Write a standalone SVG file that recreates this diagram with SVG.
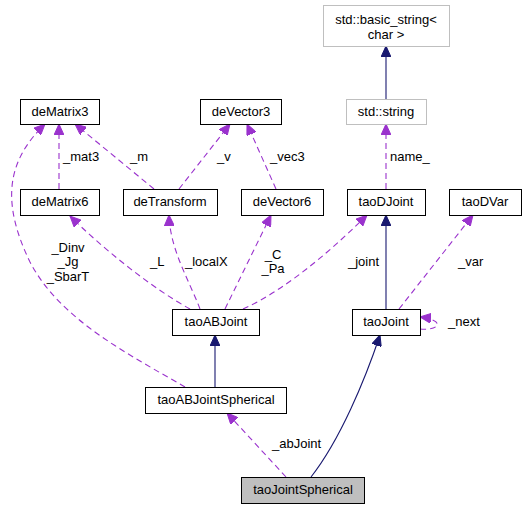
<svg xmlns="http://www.w3.org/2000/svg" width="525" height="509" viewBox="0 0 525 509">
<style>
text{font-family:"Liberation Sans",Arial,sans-serif;font-size:13px;fill:#000}
.n{text-anchor:middle}
.box{fill:#fff;stroke:#000;stroke-width:1}
.ext{fill:#fff;stroke:#bfbfbf;stroke-width:1}
.cur{fill:#bfbfbf;stroke:#000;stroke-width:1}
.inh{fill:none;stroke:#191970;stroke-width:1.1}
.use{fill:none;stroke:#9a32cd;stroke-width:1.1;stroke-dasharray:6,4}
</style>
<defs>
<marker id="an" markerUnits="userSpaceOnUse" markerWidth="12" markerHeight="10" refX="11" refY="5" orient="auto"><path d="M0,0 L11,5 L0,10 Z" fill="#191970" stroke="#191970"/></marker>
<marker id="ap" markerUnits="userSpaceOnUse" markerWidth="12" markerHeight="10" refX="11" refY="5" orient="auto"><path d="M0,0 L11,5 L0,10 Z" fill="#9a32cd" stroke="#9a32cd"/></marker>
</defs>
<g id="edges">
<path class="inh" d="M386,99 L386,46" marker-end="url(#an)"/>
<path class="use" d="M386,189 L386,124" marker-end="url(#ap)"/>
<text x="390" y="161">name_</text>
<path class="inh" d="M386,309 L386,215" marker-end="url(#an)"/>
<path class="use" d="M243,309 C290,288 340,242 367,215" marker-end="url(#ap)"/>
<text x="348" y="266">_joint</text>
<path class="use" d="M225,309 L271,215" marker-end="url(#ap)"/>
<text class="n" x="273" y="259">_C</text>
<text class="n" x="273" y="273">_Pa</text>
<path class="use" d="M200,309 C190,282 170,250 169,215" marker-end="url(#ap)"/>
<text x="185" y="266">_localX</text>
<path class="use" d="M190,309 C150,287 100,246 70,216" marker-end="url(#ap)"/>
<text x="150" y="266">_L</text>
<path class="use" d="M185,387 C130,355 60,320 30,262 C0,200 8,160 45,124" marker-end="url(#ap)"/>
<text class="n" x="68" y="252">_Dinv</text>
<text class="n" x="68" y="266">_Jg</text>
<text class="n" x="68" y="281">_SbarT</text>
<path class="use" d="M59,189 L59,124" marker-end="url(#ap)"/>
<text x="63" y="161">_mat3</text>
<path class="use" d="M154,189 L75,124" marker-end="url(#ap)"/>
<text x="130" y="161">_m</text>
<path class="use" d="M179,189 L230,124" marker-end="url(#ap)"/>
<text x="217" y="161">_v</text>
<path class="use" d="M276,189 L247,124" marker-end="url(#ap)"/>
<text x="270" y="161">_vec3</text>
<path class="use" d="M399,309 L473,215" marker-end="url(#ap)"/>
<text x="458" y="266">_var</text>
<path class="use" d="M420,329 C440,331 446,320 420,317" marker-end="url(#ap)"/>
<text x="448" y="326">_next</text>
<path class="inh" d="M215,387 L215,335" marker-end="url(#an)"/>
<path class="inh" d="M311,477 C340,440 365,380 380,335" marker-end="url(#an)"/>
<path class="use" d="M286,477 L227,413" marker-end="url(#ap)"/>
<text x="272" y="448">_abJoint</text>
</g>
<g id="basic_string"><rect class="ext" x="323.5" y="5.5" width="126" height="41"/><text class="n" x="386" y="24">std::basic_string&lt;</text><text class="n" x="386" y="39">char &gt;</text></g>
<g id="std_string"><rect class="ext" x="346.5" y="99.5" width="80" height="25"/><text class="n" x="386" y="116">std::string</text></g>
<g id="deMatrix3"><rect class="box" x="20.5" y="99.5" width="79" height="25"/><text class="n" x="60" y="116">deMatrix3</text></g>
<g id="deVector3"><rect class="box" x="200.5" y="99.5" width="81" height="25"/><text class="n" x="241" y="116">deVector3</text></g>
<g id="deMatrix6"><rect class="box" x="20.5" y="189.5" width="79" height="26"/><text class="n" x="60" y="206">deMatrix6</text></g>
<g id="deTransform"><rect class="box" x="123.5" y="189.5" width="94" height="26"/><text class="n" x="170" y="206">deTransform</text></g>
<g id="deVector6"><rect class="box" x="241.5" y="189.5" width="82" height="26"/><text class="n" x="282" y="206">deVector6</text></g>
<g id="taoDJoint"><rect class="box" x="347.5" y="189.5" width="78" height="26"/><text class="n" x="386" y="206">taoDJoint</text></g>
<g id="taoDVar"><rect class="box" x="449.5" y="189.5" width="72" height="26"/><text class="n" x="485" y="206">taoDVar</text></g>
<g id="taoABJoint"><rect class="box" x="172.5" y="309.5" width="87" height="26"/><text class="n" x="216" y="326">taoABJoint</text></g>
<g id="taoJoint"><rect class="box" x="352.5" y="309.5" width="68" height="26"/><text class="n" x="386" y="326">taoJoint</text></g>
<g id="taoABJointSpherical"><rect class="box" x="145.5" y="387.5" width="141" height="26"/><text class="n" x="216" y="404">taoABJointSpherical</text></g>
<g id="taoJointSpherical"><rect class="cur" x="241.5" y="477.5" width="123" height="26"/><text class="n" x="303" y="494">taoJointSpherical</text></g>
</svg>
